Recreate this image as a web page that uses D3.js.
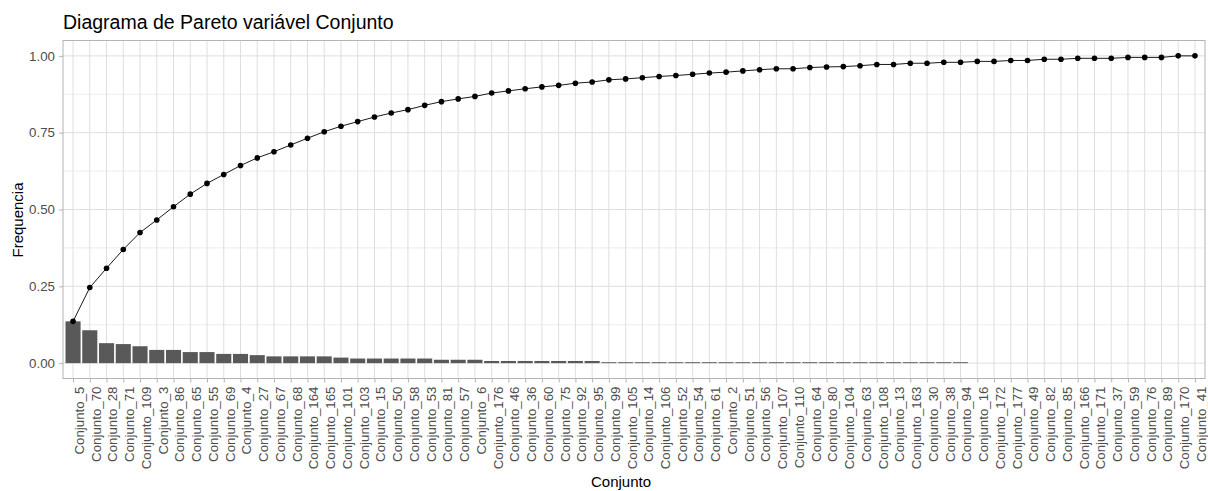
<!DOCTYPE html>
<html>
<head>
<meta charset="utf-8">
<script src="https://cdn.jsdelivr.net/npm/d3@7"></script>
<style>
  body { margin: 0; background: #fff; }
  text { font-family: "Liberation Sans", Arial, sans-serif; }
</style>
</head>
<body>
<div id="chart"></div>
<script>
// categories in Pareto order
const categories = ["Conjunto_5","Conjunto_70","Conjunto_28","Conjunto_71","Conjunto_109","Conjunto_3","Conjunto_86","Conjunto_65","Conjunto_55","Conjunto_69",
  "Conjunto_4","Conjunto_27","Conjunto_67","Conjunto_68","Conjunto_164","Conjunto_165","Conjunto_101","Conjunto_103","Conjunto_15","Conjunto_50",
  "Conjunto_58","Conjunto_53","Conjunto_81","Conjunto_57","Conjunto_6","Conjunto_176","Conjunto_46","Conjunto_36","Conjunto_60","Conjunto_75",
  "Conjunto_92","Conjunto_95","Conjunto_99","Conjunto_105","Conjunto_14","Conjunto_106","Conjunto_52","Conjunto_54","Conjunto_61","Conjunto_2",
  "Conjunto_51","Conjunto_56","Conjunto_107","Conjunto_110","Conjunto_64","Conjunto_80","Conjunto_104","Conjunto_63","Conjunto_108","Conjunto_13",
  "Conjunto_163","Conjunto_30","Conjunto_38","Conjunto_94","Conjunto_16","Conjunto_172","Conjunto_177","Conjunto_49","Conjunto_82","Conjunto_85",
  "Conjunto_166","Conjunto_171","Conjunto_37","Conjunto_59","Conjunto_76","Conjunto_89","Conjunto_170","Conjunto_41"];

// bar heights (relative frequency)
const freq = [0.136,0.107,0.065,0.062,0.055,0.043,0.043,0.036,0.036,0.030,
  0.030,0.026,0.022,0.022,0.022,0.022,0.018,0.015,0.015,0.015,
  0.015,0.015,0.011,0.011,0.011,0.007,0.007,0.007,0.007,0.007,
  0.007,0.007,0.003,0.003,0.003,0.003,0.003,0.003,0.003,0.003,
  0.003,0.003,0.003,0.003,0.003,0.003,0.003,0.003,0.003,0.003,
  0.003,0.003,0.003,0.003,0,0,0,0,0,0,
  0,0,0,0,0,0,0,0];

// cumulative frequency (line)
const cumFreq = [0.136,0.246,0.309,0.370,0.425,0.466,0.509,0.550,0.585,0.614,
  0.643,0.668,0.688,0.710,0.732,0.753,0.771,0.786,0.801,0.814,
  0.825,0.839,0.851,0.860,0.868,0.879,0.886,0.893,0.899,0.904,
  0.911,0.915,0.922,0.925,0.929,0.933,0.936,0.940,0.944,0.947,
  0.951,0.955,0.958,0.958,0.962,0.964,0.965,0.968,0.972,0.972,
  0.976,0.976,0.979,0.979,0.982,0.982,0.985,0.985,0.989,0.989,
  0.992,0.992,0.992,0.995,0.995,0.995,1.000,1.000];

const yTicks = [0, 0.25, 0.5, 0.75, 1];
const yMinor = [0.125, 0.375, 0.625, 0.875];

const W = 1208, H = 491;
const panel = {left: 63, right: 1205, top: 40.5, bottom: 378.5};

const svg = d3.select("#chart").append("svg")
  .attr("width", W).attr("height", H);

const step = (panel.right - panel.left) / (categories.length - 1 + 1.2);
const x = d3.scalePoint().domain(categories)
  .range([panel.left + 0.6 * step, panel.right - 0.6 * step]);
const y = d3.scaleLinear().domain([-0.05, 1.05]).range([panel.bottom, panel.top]);

// grid
const grid = svg.append("g");
grid.selectAll(".minor").data(yMinor).enter().append("line")
  .attr("x1", panel.left).attr("x2", panel.right)
  .attr("y1", d => y(d)).attr("y2", d => y(d))
  .attr("stroke", "#e4e4e4").attr("stroke-width", 0.7);
grid.selectAll(".major").data(yTicks).enter().append("line")
  .attr("x1", panel.left).attr("x2", panel.right)
  .attr("y1", d => y(d)).attr("y2", d => y(d))
  .attr("stroke", "#dedede").attr("stroke-width", 1);
grid.selectAll(".vmajor").data(categories).enter().append("line")
  .attr("x1", d => x(d)).attr("x2", d => x(d))
  .attr("y1", panel.top).attr("y2", panel.bottom)
  .attr("stroke", "#dedede").attr("stroke-width", 1);

// bars
svg.selectAll(".bar").data(categories).enter().append("rect")
  .attr("class", "bar")
  .attr("x", d => x(d) - 0.45 * step)
  .attr("width", 0.9 * step)
  .attr("y", (d, i) => y(freq[i]))
  .attr("height", (d, i) => y(0) - y(freq[i]))
  .attr("fill", "#595959");

// cumulative line + points
const line = d3.line().x(d => x(d[0])).y(d => y(d[1]));
const pts = categories.map((c, i) => [c, cumFreq[i]]);
svg.append("path").datum(pts)
  .attr("d", line).attr("fill", "none")
  .attr("stroke", "#000").attr("stroke-width", 0.9);
svg.selectAll(".pt").data(pts).enter().append("circle")
  .attr("cx", d => x(d[0])).attr("cy", d => y(d[1]))
  .attr("r", 2.8).attr("fill", "#000");

// panel border
svg.append("rect")
  .attr("x", panel.left).attr("y", panel.top)
  .attr("width", panel.right - panel.left).attr("height", panel.bottom - panel.top)
  .attr("fill", "none").attr("stroke", "#b3b3b3").attr("stroke-width", 1);

// axes
const yAxis = svg.append("g")
  .attr("transform", "translate(" + panel.left + ",0)")
  .call(d3.axisLeft(y).tickValues(yTicks).tickFormat(d3.format(".2f")).tickSize(4).tickPadding(4));
const xAxis = svg.append("g")
  .attr("transform", "translate(0," + panel.bottom + ")")
  .call(d3.axisBottom(x).tickSize(4).tickPadding(4));

[yAxis, xAxis].forEach(g => {
  g.select(".domain").remove();
  g.selectAll(".tick line").attr("stroke", "#b3b3b3");
  g.selectAll(".tick text").attr("fill", "#4d4d4d").style("font-size", "13.3px")
    .style("font-family", "'Liberation Sans', Arial, sans-serif");
});

xAxis.selectAll(".tick text")
  .attr("transform", "rotate(-90)")
  .attr("text-anchor", "end")
  .attr("x", -8).attr("y", 0).attr("dy", "0.78em");

// titles
svg.append("text")
  .attr("x", 63).attr("y", 29)
  .style("font-size", "19.5px").attr("fill", "#000")
  .text("Diagrama de Pareto variável Conjunto");

svg.append("text")
  .attr("x", 621).attr("y", 487)
  .attr("text-anchor", "middle")
  .style("font-size", "15px").attr("fill", "#000")
  .text("Conjunto");

svg.append("text")
  .attr("transform", "translate(23,220) rotate(-90)")
  .attr("text-anchor", "middle")
  .style("font-size", "15px").attr("fill", "#000")
  .text("Frequencia");
</script>
</body>
</html>
